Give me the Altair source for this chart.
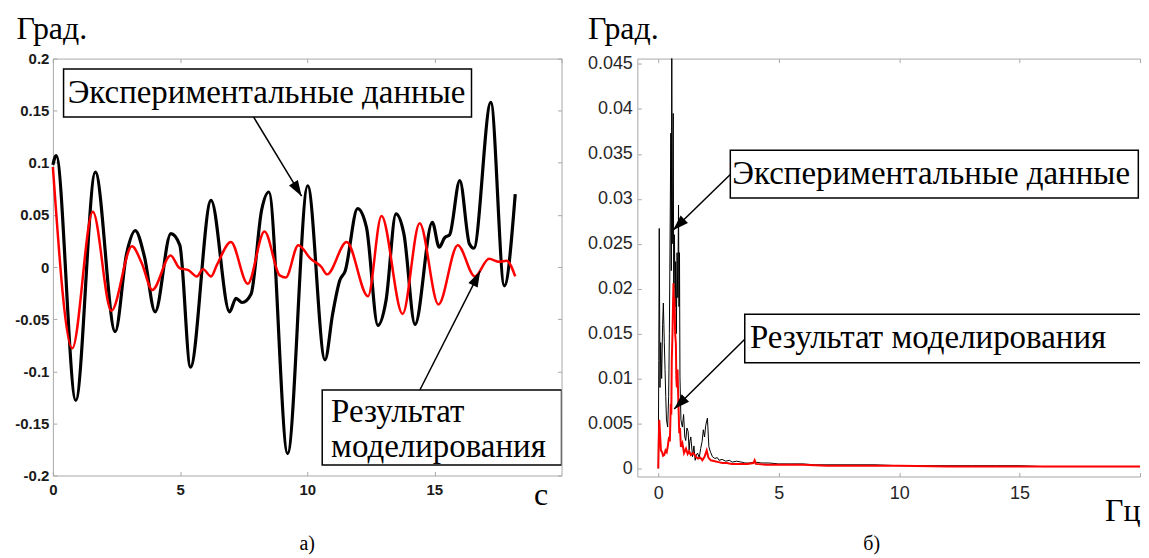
import math
import altair as alt
import pandas as pd

# ---------------- data: left panel (time series, deg vs s) ----------------
t_exp = [0.0, 0.13, 0.90, 1.67, 2.45, 2.90, 3.24, 3.60, 4.02, 4.64, 4.99, 5.41, 6.22, 6.95, 7.20, 7.44, 7.79,
         8.21, 8.49, 9.23, 10.02, 10.70, 11.00, 11.28, 11.49, 11.98, 12.33, 12.78, 13.10, 13.49, 13.80, 14.24,
         14.92, 15.19, 15.40, 15.60, 16.00, 16.38, 16.55, 17.22, 17.75, 18.18]
v_exp = [0.098, 0.107, -0.128, 0.091, -0.062, 0.013, 0.035, 0.010, -0.043, 0.032, 0.021, -0.096, 0.064, -0.043,
         -0.030, -0.034, -0.026, 0.055, 0.072, -0.179, 0.078, -0.089, -0.045, -0.013, -0.004, 0.056, 0.038,
         -0.056, -0.032, 0.051, 0.032, -0.055, 0.043, 0.019, 0.028, 0.031, 0.083, 0.022, 0.018, 0.158, -0.018, 0.070]

t_mod = [0.0, 0.76, 1.57, 2.30, 3.11, 3.49, 3.91, 4.63, 4.98, 5.33, 5.66, 5.90, 6.22, 6.45, 7.00, 7.66, 8.32,
         8.92, 9.16, 9.65, 10.13, 10.56, 10.78, 11.55, 12.39, 12.92, 13.75, 14.42, 15.16, 15.92, 16.59, 17.15,
         17.55, 17.84, 18.18]
v_mod = [0.096, -0.078, 0.053, -0.042, 0.020, 0.004, -0.022, 0.011, -0.001, -0.003, -0.009, -0.002, -0.009,
         0.002, 0.024, -0.016, 0.034, -0.008, -0.010, 0.021, 0.008, 0.000, -0.007, 0.024, -0.028, 0.049, -0.045,
         0.042, -0.036, 0.021, -0.009, 0.008, 0.005, 0.006, -0.009]

# ---------------- data: right panel (spectrum, deg vs Hz) ----------------
f_exp = [0.00, 0.02, 0.04, 0.07, 0.10, 0.14, 0.18, 0.21, 0.25, 0.28, 0.31, 0.34, 0.39, 0.43, 0.46, 0.49, 0.52,
         0.54, 0.56, 0.58, 0.60, 0.62, 0.64, 0.67, 0.70, 0.72, 0.75, 0.78, 0.81, 0.84, 0.86, 0.88, 0.90, 0.94,
         1.00, 1.05, 1.10, 1.14, 1.19, 1.24, 1.28, 1.31, 1.35, 1.40, 1.42, 1.48, 1.53, 1.58, 1.63, 1.70, 1.76,
         1.82, 1.87, 1.92, 1.97, 2.04, 2.10, 2.17, 2.25, 2.35, 2.45, 2.52, 2.65, 2.80, 2.95, 3.07, 3.25, 3.45,
         3.60, 3.76, 4.0, 4.3, 4.6, 5.0, 5.5, 6.0, 6.5, 7.0, 8.0, 9.0, 10.0, 11.0, 12.0, 13.0, 14.0, 15.0,
         16.0, 17.0, 18.0, 19.0, 20.0]
a_exp = [0.0000, 0.0120, 0.0267, 0.0090, 0.0140, 0.0100, 0.0160, 0.0184, 0.0140, 0.0110, 0.0080, 0.0054,
         0.0046, 0.0080, 0.0150, 0.0260, 0.0373, 0.0220, 0.0470, 0.0250, 0.0300, 0.0395, 0.0200, 0.0260,
         0.0180, 0.0230, 0.0150, 0.0240, 0.0190, 0.0293, 0.0180, 0.0240, 0.0102, 0.0054, 0.0046, 0.0060,
         0.0035, 0.0031, 0.0045, 0.0041, 0.0020, 0.0030, 0.0035, 0.0020, 0.0013, 0.0025, 0.0009, 0.0015,
         0.0017, 0.0012, 0.0022, 0.0030, 0.0043, 0.0035, 0.0048, 0.0056, 0.0024, 0.0018, 0.0013, 0.0011,
         0.0012, 0.0009, 0.0010, 0.0008, 0.0009, 0.0007, 0.0008, 0.0007, 0.0006, 0.0006, 0.0007, 0.0006,
         0.0006, 0.0005, 0.0005, 0.0005, 0.0004, 0.0004, 0.0004, 0.0004, 0.0003, 0.0003, 0.0003, 0.0003,
         0.0003, 0.0003, 0.0002, 0.0002, 0.0002, 0.0002, 0.0002]

f_mod = [0.00, 0.02, 0.04, 0.07, 0.11, 0.16, 0.20, 0.25, 0.30, 0.35, 0.39, 0.42, 0.45, 0.48, 0.52, 0.54, 0.56,
         0.59, 0.61, 0.63, 0.65, 0.67, 0.70, 0.73, 0.75, 0.77, 0.80, 0.83, 0.85, 0.87, 0.90, 0.94, 1.00, 1.07,
         1.15, 1.22, 1.28, 1.35, 1.45, 1.56, 1.65, 1.75, 1.83, 1.92, 2.01, 2.08, 2.18, 2.35, 2.50, 2.66, 2.85,
         3.05, 3.35, 3.70, 3.95, 4.00, 4.05, 4.5, 5.0, 6.0, 7.0, 8.0, 9.0, 10.0, 12.0, 14.0, 16.0, 18.0, 20.0]
a_mod = [0.0000, 0.0030, 0.0054, 0.0040, 0.0020, 0.0018, 0.0014, 0.0015, 0.0020, 0.0018, 0.0024, 0.0030,
         0.0035, 0.0030, 0.0072, 0.0060, 0.0120, 0.0150, 0.0180, 0.0206, 0.0170, 0.0190, 0.0150, 0.0139,
         0.0100, 0.0090, 0.0110, 0.0076, 0.0060, 0.0039, 0.0045, 0.0024, 0.0028, 0.0017, 0.0022, 0.0016,
         0.0019, 0.0015, 0.0017, 0.0013, 0.0011, 0.0012, 0.0009, 0.0013, 0.0020, 0.0012, 0.0009, 0.0008,
         0.0007, 0.0006, 0.0006, 0.0005, 0.0005, 0.0005, 0.0006, 0.0009, 0.0005, 0.0004, 0.0004, 0.0004,
         0.0003, 0.0003, 0.0003, 0.0003, 0.0002, 0.0002, 0.0002, 0.0002, 0.0002]

# tick values
left_xticks = [0, 5, 10, 15]
left_top_ticks = [0, 5, 10, 15, 20]
left_yticks = [-0.2, -0.15, -0.1, -0.05, 0, 0.05, 0.1, 0.15, 0.2]
right_xticks = [0, 5, 10, 15]
right_top_ticks = [0, 5, 10, 15, 20]
right_yticks = [0, 0.005, 0.01, 0.015, 0.02, 0.025, 0.03, 0.035, 0.04, 0.045]

# annotation texts
exp_label = "Экспериментальные данные"
mod_label = "Результат моделирования"
mod_lines = ["Результат", "моделирования"]

# ---------------- layout / style ----------------
LW, LH = 510, 418
RW, RH = 504, 419
LXD, LYD = [0, 20], [-0.2, 0.2]
RXD, RYD = [-0.87, 20.0], [-0.0009, 0.0456]
FRAME = "#a8a8a8"
SERIF = "Liberation Serif"
SANS = "Liberation Sans"
ARROW = "M0,0L-0.33,1L0.33,1Z"

lxs = alt.Scale(domain=LXD, nice=False, zero=False)
lys = alt.Scale(domain=LYD, nice=False, zero=False)
rxs = alt.Scale(domain=RXD, nice=False, zero=False)
rys = alt.Scale(domain=RYD, nice=False, zero=False)

LABEL_EXPR = "datum.value < 0 ? '-' + format(-datum.value, '~g') : format(datum.value, '~g')"


def tick_axis(orient, offset, values, domain=False):
    return alt.Axis(orient=orient, offset=offset, values=values, labels=False, ticks=True, tickSize=4,
                    tickColor=FRAME, domain=domain, domainColor=FRAME, grid=False, title=None)


def arrows(rows, xd, yd, w, h):
    out = []
    for (x1, y1, x2, y2) in rows:
        dx = (x2 - x1) * w / (xd[1] - xd[0])
        dy = -(y2 - y1) * h / (yd[1] - yd[0])
        ang = math.degrees(math.atan2(dx, -dy)) % 360
        out.append({"x": x1, "y": y1, "x2": x2, "y2": y2, "angle": ang})
    return pd.DataFrame(out)


def annot_layers(xs, ys, boxes, texts, arr, font_size, box_x_axis, box_y_axis):
    rect = alt.Chart(boxes).mark_rect(fill="white", stroke="black", strokeWidth=1.5, clip=True).encode(
        x=alt.X("x:Q", scale=xs, axis=box_x_axis), x2="x2:Q",
        y=alt.Y("y:Q", scale=ys, axis=box_y_axis), y2="y2:Q")
    layers = [rect]
    for al in ["center", "left"]:
        sub = texts[texts["al"] == al]
        if len(sub) == 0:
            continue
        layers.append(alt.Chart(sub).mark_text(font=SERIF, fontSize=font_size, color="black",
                                               baseline="middle", align=al).encode(
            x=alt.X("x:Q", scale=xs, axis=None), y=alt.Y("y:Q", scale=ys, axis=None), text="t:N"))
    layers.append(alt.Chart(arr).mark_rule(color="black", strokeWidth=1.5).encode(
        x=alt.X("x:Q", scale=xs, axis=None), y=alt.Y("y:Q", scale=ys, axis=None), x2="x2:Q", y2="y2:Q"))
    layers.append(alt.Chart(arr).mark_point(shape=ARROW, filled=True, color="black", size=1000, opacity=1).encode(
        x=alt.X("x2:Q", scale=xs, axis=None), y=alt.Y("y2:Q", scale=ys, axis=None),
        angle=alt.Angle("angle:Q", scale=None)))
    return layers


# ---------------- left panel ----------------
left_exp = pd.DataFrame({"t": t_exp, "v": v_exp})
left_mod = pd.DataFrame({"t": t_mod, "v": v_mod})

l_black = alt.Chart(left_exp).mark_line(color="black", strokeWidth=3.2, interpolate="monotone").encode(
    x=alt.X("t:Q", scale=lxs, axis=alt.Axis(
        orient="bottom", values=left_xticks, ticks=False, domain=True, domainColor=FRAME, labelFlush=False,
        labelFont=SANS, labelFontSize=15, labelFontWeight="bold", labelColor="#1a1a1a", labelPadding=7,
        title="с", titleFont=SERIF, titleFontSize=32, titleFontWeight="normal", titleColor="black",
        titleX=489, titleY=29, titleAlign="center", titleBaseline="alphabetic")),
    y=alt.Y("v:Q", scale=lys, axis=alt.Axis(
        orient="left", values=left_yticks, ticks=False, domain=True, domainColor=FRAME, labelFlush=False,
        labelExpr=LABEL_EXPR, labelFont=SANS, labelFontSize=15, labelFontWeight="bold", labelColor="#1a1a1a",
        labelPadding=4, title="Град.", titleFont=SERIF, titleFontSize=32, titleFontWeight="normal",
        titleColor="black", titleAngle=0, titleX=-37, titleY=-20, titleAlign="left",
        titleBaseline="alphabetic")))
l_red = alt.Chart(left_mod).mark_line(color="#ff0000", strokeWidth=2.5, interpolate="monotone").encode(
    x=alt.X("t:Q", scale=lxs, axis=tick_axis("top", -LH, left_xticks)),
    y=alt.Y("v:Q", scale=lys, axis=tick_axis("right", -LW, left_yticks)))

l_boxes = pd.DataFrame({"x": [0.42, 10.59], "x2": [16.46, 20.0], "y": [0.144, -0.118], "y2": [0.190, -0.190]})
l_texts = pd.DataFrame({"x": [8.4, 10.94, 10.94], "y": [0.167, -0.139, -0.1726],
                        "t": [exp_label] + mod_lines, "al": ["center", "left", "left"]})
l_arr = arrows([(7.89, 0.144, 9.78, 0.068), (14.43, -0.118, 16.8, -0.004)], LXD, LYD, LW, LH)
l_annot = annot_layers(lxs, lys, l_boxes, l_texts, l_arr, 33,
                       tick_axis("bottom", -LH, left_top_ticks, domain=True),
                       tick_axis("left", -LW, left_yticks, domain=True))

left = alt.layer(l_black, l_red, *l_annot).resolve_axis(x="independent", y="independent").properties(
    width=LW, height=LH,
    title=alt.TitleParams("а)", orient="bottom", anchor="middle", frame="group", font=SERIF, fontSize=20,
                          fontWeight="normal", color="black", offset=24))

# ---------------- right panel ----------------
right_exp = pd.DataFrame({"f": f_exp, "a": a_exp})
right_mod = pd.DataFrame({"f": f_mod, "a": a_mod})

r_black = alt.Chart(right_exp).mark_line(color="black", strokeWidth=1, clip=True).encode(
    x=alt.X("f:Q", scale=rxs, axis=alt.Axis(
        orient="bottom", values=right_xticks, ticks=False, domain=True, domainColor=FRAME, labelFlush=False,
        labelFont=SANS, labelFontSize=18, labelColor="#262626", labelPadding=8,
        title="Гц", titleFont=SERIF, titleFontSize=32, titleFontWeight="normal", titleColor="black",
        titleX=RW, titleY=44, titleAlign="right", titleBaseline="alphabetic")),
    y=alt.Y("a:Q", scale=rys, axis=alt.Axis(
        orient="left", values=right_yticks, ticks=False, domain=True, domainColor=FRAME, labelFlush=False,
        labelExpr=LABEL_EXPR, labelFont=SANS, labelFontSize=18, labelColor="#262626", labelPadding=5,
        title="Град.", titleFont=SERIF, titleFontSize=32, titleFontWeight="normal", titleColor="black",
        titleAngle=0, titleX=-50, titleY=-20, titleAlign="left", titleBaseline="alphabetic")))
r_red = alt.Chart(right_mod).mark_line(color="#ff0000", strokeWidth=2, clip=True).encode(
    x=alt.X("f:Q", scale=rxs, axis=tick_axis("top", -RH, right_top_ticks)),
    y=alt.Y("a:Q", scale=rys, axis=tick_axis("right", -RW, right_yticks)))

r_boxes = pd.DataFrame({"x": [2.99, 3.59], "x2": [19.93, 21.0], "y": [0.0301, 0.01176], "y2": [0.0354, 0.01714]})
r_texts = pd.DataFrame({"x": [11.33, 11.2], "y": [0.0328, 0.01455], "t": [exp_label, mod_label],
                        "al": ["center", "center"]})
r_arr = arrows([(2.99, 0.0327, 0.61, 0.0265), (3.59, 0.01436, 0.66, 0.0066)], RXD, RYD, RW, RH)
r_annot = annot_layers(rxs, rys, r_boxes, r_texts, r_arr, 33,
                       tick_axis("bottom", -RH, right_top_ticks, domain=True), None)

right = alt.layer(r_black, r_red, *r_annot).resolve_axis(x="independent", y="independent").properties(
    width=RW, height=RH,
    title=alt.TitleParams("б)", orient="bottom", anchor="middle", frame="group", dx=-17, font=SERIF,
                          fontSize=20, fontWeight="normal", color="black", offset=8))

chart = alt.hconcat(left, right, spacing=24).properties(
    padding={"left": 6, "top": 4, "right": 0, "bottom": 0}, background="white"
).configure_view(stroke=None).configure_axis(grid=False)

chart.save("out.html", embed_options={"renderer": "svg", "actions": False})
